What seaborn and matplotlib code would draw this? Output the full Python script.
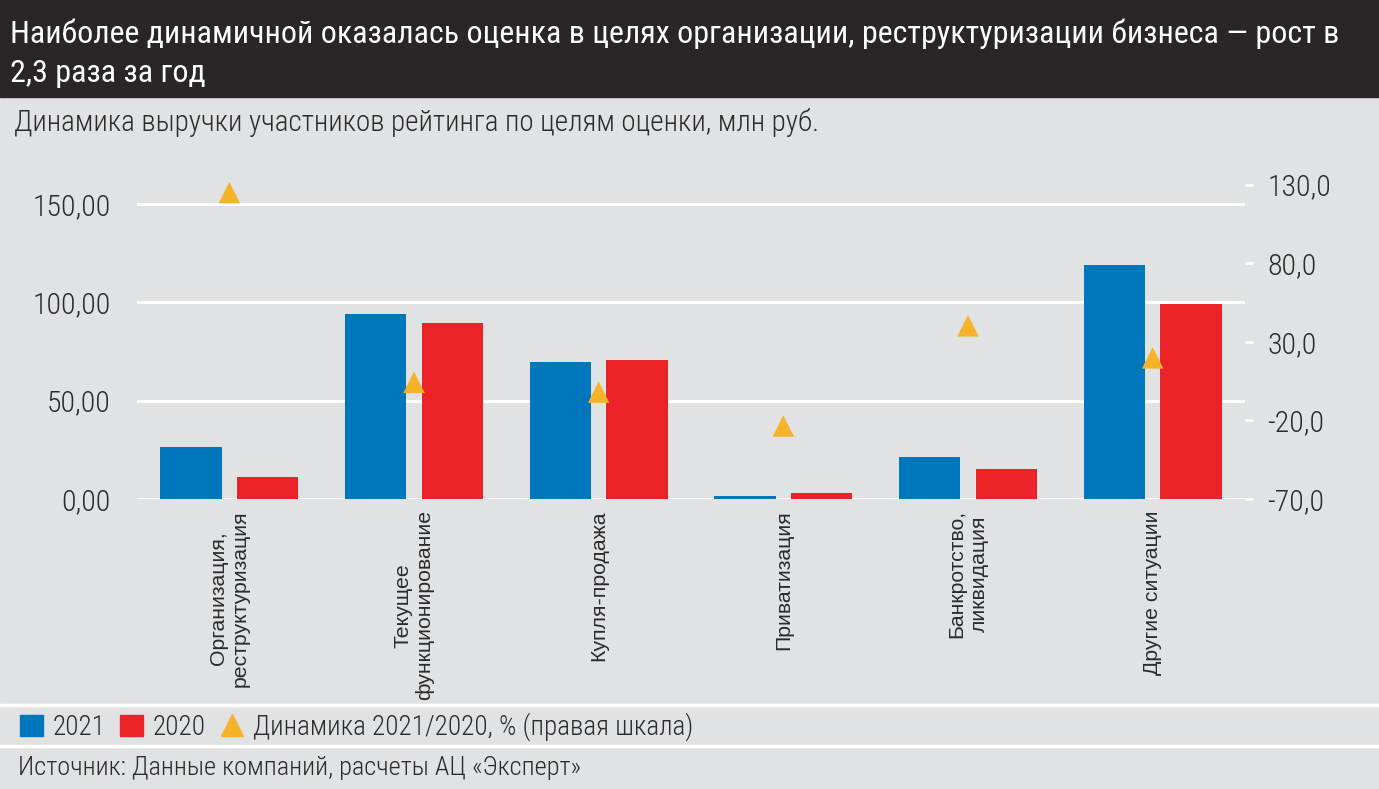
import numpy as np
import pandas as pd
import matplotlib.pyplot as plt
import seaborn as sns
from matplotlib.patches import Rectangle, Patch
from matplotlib.lines import Line2D

# Data
categories = ['Организация,\nреструктуризация', 'Текущее\nфункционирование', 'Купля-продажа',
              'Приватизация', 'Банкротство,\nликвидация', 'Другие ситуации']
rev_2021 = [26.6, 94.0, 69.6, 1.5, 21.5, 119.0]
rev_2020 = [11.3, 89.6, 70.7, 2.8, 15.3, 99.1]
growth_pct = [125.0, 4.2, -2.0, -23.6, 40.2, 19.8]
left_ticks = [0, 50, 100, 150]
right_ticks = [-70, -20, 30, 80, 130]

BLUE = '#0076bd'
RED = '#ec2229'
GOLD = '#f6b229'
BG = '#e1e2e4'
DARK = '#2a2526'
TXT = '#2b2b2b'

sns.set_theme(style='white')
# condensed face like the original, with safe fallbacks
plt.rcParams['font.family'] = ['Roboto Condensed', 'PT Sans Narrow', 'Fira Sans Extra Condensed',
                               'DejaVu Sans']

df = pd.DataFrame({
    'cat': categories * 2,
    'year': ['2021'] * 6 + ['2020'] * 6,
    'value': rev_2021 + rev_2020,
})

W, H = 1379, 789
fig = plt.figure(figsize=(W / 100, H / 100), dpi=100, facecolor=BG)

# dark title bar
fig.add_artist(Rectangle((0, 1 - 97 / H), 1, 97 / H, transform=fig.transFigure,
                         color=DARK, zorder=0))
fig.text(10 / W, 1 - 43 / H, 'Наиболее динамичной оказалась оценка в целях организации, '
         'реструктуризации бизнеса — рост в', color='white', fontsize=23, va='baseline')
fig.text(10 / W, 1 - 82 / H, '2,3 раза за год', color='white', fontsize=23, va='baseline')
fig.text(14 / W, 1 - 131 / H, 'Динамика выручки участников рейтинга по целям оценки, млн руб.',
         color=TXT, fontsize=21, fontweight='light', va='baseline')

# separators
for yy in [705, 746]:
    fig.add_artist(Line2D([0, 1], [1 - yy / H] * 2, transform=fig.transFigure,
                          color='white', lw=2.5))

ax = fig.add_axes([137 / W, 1 - 499 / H, (1245 - 137) / W, (499 - 168) / H])
ax.set_facecolor('none')
sns.barplot(data=df, x='cat', y='value', hue='year', hue_order=['2021', '2020'],
            palette=[BLUE, RED], width=0.83, gap=0.2, saturation=1, linewidth=0,
            legend=False, ax=ax)
ax.set_xlim(-0.5, 5.5)
ax.set_ylim(0, 168.3)
ax.set_yticks(left_ticks)
ax.set_yticklabels([f'{v:.2f}'.replace('.', ',') for v in left_ticks], fontweight='light')
ax.yaxis.grid(True, color='white', lw=2.2)
ax.set_axisbelow(True)
ax.set_xlabel('')
ax.set_ylabel('')
ax.set_xticks(range(len(categories)))
ax.set_xticklabels(categories, rotation=90, ha='center', va='top', multialignment='center',
                   fontsize=15.3, color=TXT, family=['Liberation Sans', 'DejaVu Sans'])
ax.tick_params(axis='x', length=0, pad=8)
ax.tick_params(axis='y', length=0, pad=19, labelsize=21.5, labelcolor=TXT)
for s in ax.spines.values():
    s.set_visible(False)

# right scale: dynamics in %
ax2 = ax.twinx()
sns.scatterplot(x=np.arange(len(categories)), y=growth_pct, marker='^', s=240,
                color=GOLD, edgecolor='none', ax=ax2, zorder=5)
ax2.set_ylim(-70, 140.6)
ax2.set_yticks(right_ticks)
ax2.set_yticklabels([f'{v:.1f}'.replace('.', ',') for v in right_ticks], fontweight='light')
ax2.tick_params(axis='y', right=True, length=6, width=2, color='white', pad=10,
                labelsize=21.5, labelcolor=TXT)
ax2.grid(False)
ax2.set_ylabel('')
for s in ax2.spines.values():
    s.set_visible(False)

handles = [Patch(color=BLUE, label='2021'), Patch(color=RED, label='2020'),
           Line2D([], [], marker='^', ls='none', color=GOLD, markersize=16,
                  label='Динамика 2021/2020, % (правая шкала)')]
fig.legend(handles=handles, loc='center left', bbox_to_anchor=(20 / W, 1 - 727 / H),
           ncol=3, frameon=False, handlelength=0.85, handleheight=0.85,
           handletextpad=0.35, columnspacing=0.55, borderpad=0, borderaxespad=0,
           labelcolor=TXT, prop={'size': 19.5, 'weight': 'light'})

fig.text(18 / W, 1 - 768 / H, 'Источник: Данные компаний, расчеты АЦ «Эксперт»',
         color=TXT, fontsize=19, fontweight='light', va='center')

fig.savefig('out.png', dpi=100, facecolor=BG)
